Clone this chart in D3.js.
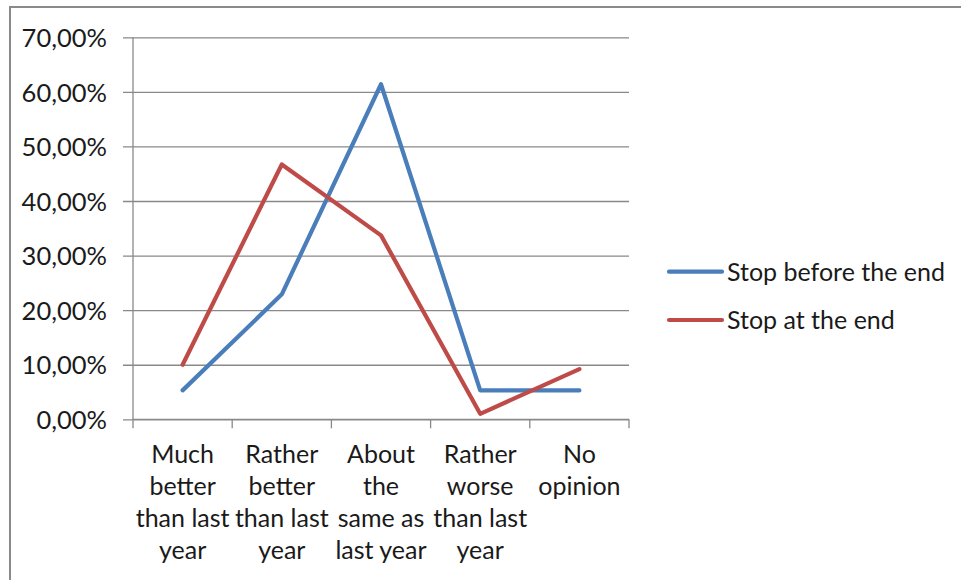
<!DOCTYPE html>
<html>
<head>
<meta charset="utf-8">
<script src="https://cdn.jsdelivr.net/npm/d3@7"></script>
<style>
  html, body { margin: 0; padding: 0; background: #ffffff; }
  svg { display: block; }
  text { font-family: Lato, "Liberation Sans", sans-serif; fill: #1a1a1a; }
</style>
</head>
<body>
<svg id="chart" width="961" height="580"></svg>
<script>
// Answer categories (each line of a label is separated by "|")
const categories = [
  "Much|better|than last|year",
  "Rather|better|than last|year",
  "About|the|same as|last year",
  "Rather|worse|than last|year",
  "No|opinion"
];
// Share of respondents, in percent
const stopBeforeEnd = [5.3, 22.9, 61.4, 5.3, 5.3];
const stopAtEnd = [10.0, 46.7, 33.7, 1.0, 9.2];
const seriesNames = ["Stop before the end", "Stop at the end"];
const seriesColors = ["#4A7EBB", "#BE4B48"];
const yTicks = [0, 10, 20, 30, 40, 50, 60, 70];

const series = [
  { name: seriesNames[0], values: stopBeforeEnd, color: seriesColors[0] },
  { name: seriesNames[1], values: stopAtEnd, color: seriesColors[1] }
];

const svg = d3.select("#chart");
const fontSize = 25;
const tickFontSize = 25.5;
const gridColor = "#898989";

// Outer chart frame
svg.append("rect")
  .attr("x", 10).attr("y", 7)
  .attr("width", 980).attr("height", 600)
  .attr("fill", "none")
  .attr("stroke", "#8a8a8a")
  .attr("stroke-width", 2);

const plot = { left: 133, right: 629, top: 37.3, bottom: 419.3 };

const x = d3.scaleBand()
  .domain(categories)
  .range([plot.left, plot.right])
  .padding(0);

const y = d3.scaleLinear()
  .domain([0, 70])
  .range([plot.bottom, plot.top]);

// Horizontal gridlines and y tick marks
const yAxis = d3.axisLeft(y)
  .tickValues(yTicks)
  .tickSize(-(plot.right - plot.left))
  .tickSizeOuter(0)
  .tickPadding(0)
  .tickFormat(d => d.toFixed(2).replace(".", ",") + "%");

const gy = svg.append("g")
  .attr("transform", `translate(${plot.left},0)`)
  .call(yAxis);
gy.select(".domain").remove();
gy.selectAll(".tick line")
  .attr("x1", -10)
  .attr("stroke", gridColor)
  .attr("stroke-width", 1.3);
gy.selectAll(".tick text")
  .attr("x", -26)
  .attr("dy", "0.36em")
  .style("font-size", tickFontSize + "px")
  .style("font-family", "Lato, 'Liberation Sans', sans-serif")
  .attr("fill", "#1a1a1a");

// Vertical value axis line
svg.append("line")
  .attr("x1", plot.left).attr("x2", plot.left)
  .attr("y1", plot.top).attr("y2", plot.bottom)
  .attr("stroke", gridColor)
  .attr("stroke-width", 1.3);

// Category axis with ticks between categories
const gx = svg.append("g")
  .attr("transform", `translate(0,${plot.bottom})`);
gx.append("line")
  .attr("x1", plot.left).attr("x2", plot.right)
  .attr("stroke", gridColor).attr("stroke-width", 1.3);
const boundaries = categories.map(c => x(c)).concat([x(categories[categories.length - 1]) + x.bandwidth()]);
gx.selectAll("line.tick")
  .data(boundaries)
  .join("line")
  .attr("class", "tick")
  .attr("x1", d => d).attr("x2", d => d)
  .attr("y1", 0).attr("y2", 9)
  .attr("stroke", gridColor).attr("stroke-width", 1.3);

const lineHeight = 32;
gx.selectAll("text.cat")
  .data(categories)
  .join("text")
  .attr("class", "cat")
  .attr("text-anchor", "middle")
  .style("font-size", fontSize + "px")
  .attr("transform", d => `translate(${x(d) + x.bandwidth() / 2},44)`)
  .each(function (d) {
    const t = d3.select(this);
    d.split("|").forEach((ln, i) => {
      t.append("tspan").attr("x", 0).attr("y", i * lineHeight).text(ln);
    });
  });

// Series lines
const line = d3.line()
  .x((d, i) => x(categories[i]) + x.bandwidth() / 2)
  .y(d => y(d));

svg.append("g")
  .selectAll("path")
  .data(series)
  .join("path")
  .attr("d", d => line(d.values))
  .attr("fill", "none")
  .attr("stroke", d => d.color)
  .attr("stroke-width", 4.2)
  .attr("stroke-linejoin", "round")
  .attr("stroke-linecap", "round");

// Legend
const legend = svg.append("g")
  .selectAll("g")
  .data(series)
  .join("g")
  .attr("transform", (d, i) => `translate(669,${271.7 + i * 48.3})`);
legend.append("line")
  .attr("x1", 0).attr("x2", 53)
  .attr("stroke", d => d.color)
  .attr("stroke-width", 4.2)
  .attr("stroke-linecap", "round");
legend.append("text")
  .attr("x", 58)
  .attr("dy", "0.36em")
  .style("font-size", fontSize + "px")
  .text(d => d.name);
</script>
</body>
</html>
